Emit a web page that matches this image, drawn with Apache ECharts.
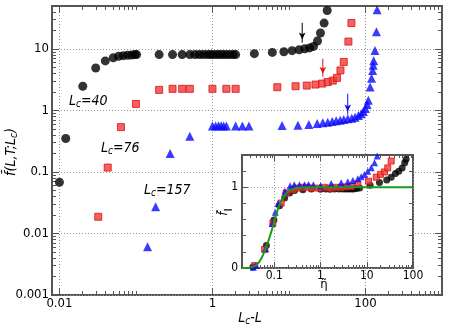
<!DOCTYPE html>
<html>
<head>
<meta charset="utf-8">
<script src="https://cdn.jsdelivr.net/npm/echarts@6/dist/echarts.min.js"></script>
<style>
  html, body { margin: 0; padding: 0; background: #fff; }
  #chart { width: 449px; height: 330px; }
</style>
</head>
<body>
<div id="chart"></div>
<script>
// main panel: [Lc-L, f]
const lc40 = [
  [0.01, 0.068], [0.0121, 0.35], [0.0202, 2.48], [0.0298, 4.9], [0.0398, 6.4],
  [0.0506, 7.2], [0.0594, 7.6], [0.0683, 7.8], [0.078, 7.9], [0.088, 8.0],
  [0.097, 8.1], [0.102, 8.1], [0.201, 8.1], [0.301, 8.1], [0.402, 8.1],
  [0.506, 8.1], [0.588, 8.1], [0.669, 8.1], [0.754, 8.1], [0.85, 8.1],
  [0.94, 8.1], [1.02, 8.1], [1.13, 8.1], [1.24, 8.1], [1.37, 8.1],
  [1.52, 8.1], [1.68, 8.1], [1.86, 8.1], [2.01, 8.1], [3.53, 8.4],
  [6.06, 8.8], [8.58, 9.0], [11.0, 9.4], [13.6, 9.7], [16.1, 10.1],
  [18.6, 10.4], [20.9, 11.0], [23.6, 13.5], [25.8, 18.2], [28.8, 26.4],
  [31.6, 42.2]
];
const lc76 = [
  [0.0322, 0.0187], [0.0428, 0.118], [0.0637, 0.537], [0.1, 1.28], [0.201, 2.16],
  [0.301, 2.25], [0.402, 2.25], [0.506, 2.25], [1.0, 2.25], [1.52, 2.25],
  [2.01, 2.25], [7.04, 2.39], [12.2, 2.48], [17.1, 2.54], [22.2, 2.64],
  [27.2, 2.74], [32.1, 2.9], [37.4, 3.06], [42.4, 3.39], [47.1, 4.48],
  [52.0, 6.15], [59.8, 13.2], [65.5, 26.4]
];
const lc157 = [
  [0.142, 0.0061], [0.181, 0.0271], [0.28, 0.199], [0.506, 0.383], [1.0, 0.557],
  [1.1, 0.562], [1.2, 0.565], [1.3, 0.565], [1.4, 0.562], [1.52, 0.557],
  [2.01, 0.557], [2.46, 0.557], [3.0, 0.557], [8.13, 0.571], [13.1, 0.578],
  [18.2, 0.593], [23.4, 0.616], [27.7, 0.632], [32.1, 0.646], [36.7, 0.663],
  [41.4, 0.681], [46.7, 0.696], [52.0, 0.715], [58.6, 0.734], [66.1, 0.75],
  [73.1, 0.779], [80.7, 0.83], [87.7, 0.884], [93.9, 0.963], [99.8, 1.08],
  [105, 1.25], [109, 1.47], [115, 2.42], [120, 3.34], [124, 4.45],
  [126, 5.42], [128, 6.46], [133, 9.49], [139, 19.1], [142, 43.4]
];
// arrows: [x, top, tip]
const arrow40 = [14.9, 26.6, 12.7];
const arrow76 = [27.7, 6.95, 3.55];
const arrow157 = [58.6, 1.87, 0.86];

// inset: [eta, f_par]
const in40 = [
  [0.0345, 0.012], [0.0673, 0.28], [0.098, 0.596], [0.13, 0.77], [0.167, 0.867],
  [0.214, 0.93], [0.274, 0.959], [0.415, 0.971], [0.63, 0.98], [1.0, 0.975],
  [1.3, 0.98], [1.6, 0.975], [2.0, 0.98], [2.5, 0.98], [3.0, 0.98],
  [3.5, 0.98], [4.0, 0.98], [4.6, 0.98], [5.2, 0.98], [6.0, 0.985],
  [7.0, 0.99], [11.8, 1.025], [18.8, 1.06], [27, 1.09], [33.7, 1.125],
  [41.7, 1.17], [49.1, 1.2], [58.2, 1.24], [66.2, 1.305], [71, 1.346]
];
const in76 = [
  [0.0376, 0.03], [0.0617, 0.23], [0.093, 0.555], [0.141, 0.805], [0.181, 0.93],
  [0.252, 0.97], [0.3, 0.99], [0.4, 1.0], [0.5, 1.0], [0.65, 0.99],
  [0.9, 0.99], [1.2, 1.0], [1.6, 0.99], [2.1, 1.0], [2.8, 1.0],
  [3.6, 1.005], [4.6, 1.01], [6.4, 1.04], [10.9, 1.075], [16, 1.125],
  [19.8, 1.16], [24.1, 1.19], [28.4, 1.24], [33.7, 1.325]
];
const in157 = [
  [0.035, 0.01], [0.04, 0.03], [0.065, 0.24], [0.09, 0.55], [0.105, 0.69],
  [0.12, 0.8], [0.17, 0.95], [0.22, 1.02], [0.27, 1.03], [0.35, 1.03],
  [0.45, 1.03], [0.55, 1.035], [0.7, 1.03], [1.0, 1.02], [1.7, 1.046],
  [2.8, 1.055], [3.89, 1.0675], [4.99, 1.084], [6.4, 1.105], [7.57, 1.13],
  [8.92, 1.159], [10.5, 1.2], [12.5, 1.2425], [14.7, 1.305], [16.8, 1.3875]
];
const fitCurve = [
  [0.02, 0], [0.025, 0], [0.0293, 0.005], [0.0408, 0.034], [0.0524, 0.117],
  [0.0672, 0.263], [0.0861, 0.45], [0.107, 0.638], [0.13, 0.784], [0.167, 0.896],
  [0.214, 0.96], [0.298, 0.99], [0.49, 1.0], [1, 1], [10, 1], [100, 1]
];

// ticks
const mainXTicks = [0.01, 1, 100];
const mainYTicks = [0.001, 0.01, 0.1, 1, 10];
const insetXTicks = [0.1, 1, 10, 100];
const insetYTicks = [0, 1];
const insetYMinor = [0.2, 0.4, 0.6, 0.8, 1.2, 1.4];

function minors(decades) {
  const out = [];
  decades.forEach(d => {
    for (let k = 2; k <= 10; k++) out.push(+(k * d).toPrecision(3));
  });
  return out;
}
const mainXMinor = minors([0.01, 1, 100]);
const mainYMinor = minors([0.001, 0.01, 0.1, 1, 10]).filter(v => v <= 50);
const insetXMinor = minors([0.01, 0.1, 1, 10]).filter(v => v >= 0.02 && v <= 100);

const FONT = "'Liberation Sans Narrow', 'DejaVu Sans Condensed', 'Liberation Sans', sans-serif";
const frame = '#555';

const MAIN = { l: 52, t: 6, w: 390, h: 289 };
const INSET = { l: 242, t: 155, w: 171, h: 113 };
const mainX = { min: 0.008, max: 1000 };
const mainY = { min: 0.001, max: 50 };
const inX = { min: 0.02, max: 100 };
const inY = { min: 0, max: 1.4 };

const grids = [], xAxes = [], yAxes = [];

function hiddenAxis(gi) {
  return { type: 'value', gridIndex: gi, min: 0, max: 1, show: false };
}

// data axes with labels and dotted grid
function dataPanel(r, x, y, o) {
  const gi = grids.length;
  grids.push(Object.assign({ left: r.l, top: r.t, width: r.w, height: r.h }, o.grid || {}));
  const mk = (type, range, ticks, fs, margin) => ({
    type: type, gridIndex: gi, min: range.min, max: range.max, z: o.z || 0,
    axisLine: { show: false },
    axisTick: { show: false, customValues: ticks },
    axisLabel: {
      show: true, customValues: o.labelsX && type === x.type ? ticks : ticks,
      margin: margin, fontFamily: FONT, fontSize: fs, color: '#000',
      formatter: v => String(+(+v).toPrecision(3))
    },
    splitLine: { show: true, lineStyle: { color: '#999', type: [1, 2], width: 1 } }
  });
  xAxes.push(mk(x.type, x.range, x.ticks, o.fs, o.mx));
  yAxes.push(mk(y.type, y.range, y.ticks, o.fs, o.my));
  return gi;
}

// short solid split lines in a thin strip act as tick marks
function tickStrip(r, side, len, type, range, values, z) {
  const gi = grids.length;
  let g;
  if (side === 'bottom') g = { left: r.l, width: r.w, top: r.t + r.h - len, height: len };
  if (side === 'top') g = { left: r.l, width: r.w, top: r.t, height: len };
  if (side === 'left') g = { left: r.l, width: len, top: r.t, height: r.h };
  if (side === 'right') g = { left: r.l + r.w - len, width: len, top: r.t, height: r.h };
  grids.push(g);
  const ax = {
    type: type, gridIndex: gi, min: range.min, max: range.max, z: z,
    axisLine: { show: false },
    axisTick: { show: false, customValues: values },
    axisLabel: { show: false },
    splitLine: { show: true, lineStyle: { color: frame, width: 1, type: 'solid' } }
  };
  if (side === 'bottom' || side === 'top') { xAxes.push(ax); yAxes.push(hiddenAxis(gi)); }
  else { yAxes.push(ax); xAxes.push(hiddenAxis(gi)); }
}

const gMain = dataPanel(MAIN,
  { type: 'log', range: mainX, ticks: mainXTicks },
  { type: 'log', range: mainY, ticks: mainYTicks },
  { fs: 13, mx: 2, my: 3, grid: { show: true, borderColor: frame, borderWidth: 2, backgroundColor: 'transparent' } });
const xMain = xAxes.length - 1, yMain = yAxes.length - 1;

['bottom', 'top'].forEach(s => {
  tickStrip(MAIN, s, 7, 'log', mainX, mainXTicks, 1);
  tickStrip(MAIN, s, 4, 'log', mainX, mainXMinor, 1);
});
['left', 'right'].forEach(s => {
  tickStrip(MAIN, s, 7, 'log', mainY, mainYTicks, 1);
  tickStrip(MAIN, s, 4, 'log', mainY, mainYMinor, 1);
});

const gIn = dataPanel(INSET,
  { type: 'log', range: inX, ticks: insetXTicks },
  { type: 'value', range: inY, ticks: insetYTicks },
  { fs: 12, mx: 2, my: 4, z: 3, grid: { show: true, z: 2, borderColor: frame, borderWidth: 2, backgroundColor: '#fff' } });
const xIn = xAxes.length - 1, yIn = yAxes.length - 1;

['bottom', 'top'].forEach(s => {
  tickStrip(INSET, s, 6, 'log', inX, insetXTicks, 4);
  tickStrip(INSET, s, 3, 'log', inX, insetXMinor, 4);
});
['left', 'right'].forEach(s => {
  tickStrip(INSET, s, 6, 'value', inY, insetYTicks, 4);
  tickStrip(INSET, s, 4, 'value', inY, insetYMinor, 4);
});

const sub = { fontFamily: FONT, fontStyle: 'italic', fontSize: 10, lineHeight: 16, verticalAlign: 'bottom', padding: [6, 0, 0, 0] };
const ital = { fontFamily: FONT, fontStyle: 'italic', fontSize: 14, lineHeight: 16 };

const chart = echarts.init(document.getElementById('chart'));
chart.setOption({
  animation: false,
  grid: grids,
  xAxis: xAxes,
  yAxis: yAxes,
  series: [
    { type: 'scatter', xAxisIndex: xMain, yAxisIndex: yMain, data: lc40, symbol: 'circle', symbolSize: 9, itemStyle: { color: '#000' } },
    { type: 'scatter', xAxisIndex: xMain, yAxisIndex: yMain, data: lc76, symbol: 'rect', symbolSize: 7, itemStyle: { color: '#f03a3a', borderColor: '#e01010', borderWidth: 1 } },
    { type: 'scatter', xAxisIndex: xMain, yAxisIndex: yMain, data: lc157, symbol: 'triangle', symbolSize: 9, itemStyle: { color: '#0a0aff' } },
    ...[[arrow40, '#000'], [arrow76, '#e01010'], [arrow157, '#0a0aff']].map(([a, c]) => ({
      type: 'line', xAxisIndex: xMain, yAxisIndex: yMain,
      data: [
        { value: [a[0], a[1]], symbol: 'none' },
        { value: [a[0], a[2]], symbol: 'arrow', symbolRotate: 180, symbolSize: [5, 7], symbolOffset: [0, -3] }
      ],
      lineStyle: { color: c, width: 1 },
      itemStyle: { color: c },
      showSymbol: true
    })),
    { type: 'line', xAxisIndex: xIn, yAxisIndex: yIn, data: fitCurve, smooth: 0.3, symbol: 'none', z: 6, lineStyle: { color: '#1a9a1a', width: 2 } },
    { type: 'scatter', xAxisIndex: xIn, yAxisIndex: yIn, data: in40, symbol: 'circle', symbolSize: 7, z: 5, itemStyle: { color: '#000' } },
    { type: 'scatter', xAxisIndex: xIn, yAxisIndex: yIn, data: in76, symbol: 'rect', symbolSize: 6, z: 5, itemStyle: { color: '#f03a3a', borderColor: '#e01010', borderWidth: 1 } },
    { type: 'scatter', xAxisIndex: xIn, yAxisIndex: yIn, data: in157, symbol: 'triangle', symbolSize: 7, z: 5, itemStyle: { color: '#0a0aff' } }
  ],
  graphic: [
    {
      type: 'text', x: 250, y: 318, z: 10,
      style: { text: '{i|L}{s|c}{i|-L}', textAlign: 'center', textVerticalAlign: 'middle', rich: { i: ital, s: sub } }
    },
    {
      type: 'text', x: 11, y: 152, rotation: Math.PI / 2, z: 10,
      style: { text: '{i|f\u0304(L,T;L}{s|c}{i|)}', textAlign: 'center', textVerticalAlign: 'middle', rich: { i: ital, s: sub } }
    },
    ...[['40', 69, 101], ['76', 101, 148], ['157', 144, 190]].map(([n, x, y]) => ({
      type: 'text', x: x, y: y, z: 10,
      style: { text: '{i|L}{s|c}{i|=' + n + '}', textAlign: 'left', textVerticalAlign: 'middle', rich: { i: ital, s: sub } }
    })),
    {
      type: 'text', x: 224, y: 212, rotation: Math.PI / 2, z: 10,
      style: {
        text: '{i|f\u0303}{s|\u2225}', textAlign: 'center', textVerticalAlign: 'middle',
        rich: { i: { fontFamily: FONT, fontStyle: 'italic', fontSize: 13, lineHeight: 15 }, s: { fontFamily: FONT, fontSize: 8, lineHeight: 15, verticalAlign: 'bottom', padding: [5, 0, 0, 0] } }
      }
    },
    {
      type: 'text', x: 324, y: 285, z: 10,
      style: { text: '\u03b7\u0303', textAlign: 'center', textVerticalAlign: 'middle', fontFamily: FONT, fontSize: 13 }
    }
  ]
});
</script>
</body>
</html>
